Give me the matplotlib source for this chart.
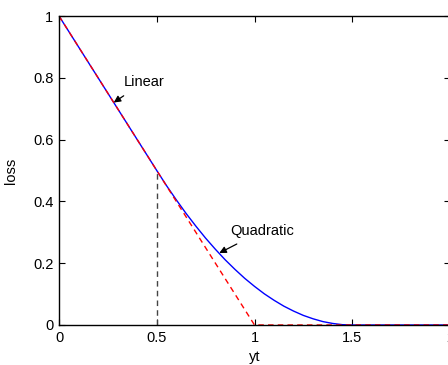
import matplotlib
matplotlib.use('Agg')
import matplotlib.pyplot as plt

# smooth hinge (blue)
yt_smooth = [0, 0.5, 0.55, 0.6, 0.65, 0.7, 0.75, 0.8, 0.85, 0.9, 0.95, 1.0,
             1.05, 1.1, 1.15, 1.2, 1.25, 1.3, 1.35, 1.4, 1.45, 1.5, 2.0]
loss_smooth = [1.0, 0.5, 0.451, 0.405, 0.361, 0.32, 0.281, 0.245, 0.211, 0.18,
               0.151, 0.125, 0.101, 0.08, 0.061, 0.045, 0.031, 0.02, 0.011,
               0.005, 0.001, 0.0, 0.0]
# plain hinge (red dashed)
yt_hinge = [0, 1, 2]
loss_hinge = [1.0, 0.0, 0.0]
# split marker (black dashed)
yt_split = [0.5, 0.5]
loss_split = [0.0, 0.5]

plt.rcParams['font.family'] = ['Liberation Sans', 'DejaVu Sans']
plt.rcParams['font.size'] = 10.5

fig = plt.figure(figsize=(4.48, 3.65), dpi=100, facecolor='w')
ax = fig.add_axes([59 / 448, 40 / 365, 391 / 448, 309 / 365])

ax.plot(yt_split, loss_split, color='#444444', lw=1.0, dashes=(4, 3))
ax.plot(yt_smooth, loss_smooth, color='blue', lw=1.0)
ax.plot(yt_hinge, loss_hinge, color='red', lw=1.0, dashes=(4, 3))

arrow = dict(arrowstyle='-|>', color='k', lw=0.9,
             mutation_scale=10, shrinkA=5, shrinkB=0)
ax.annotate('Linear', xy=(0.28, 0.72), xytext=(0.33, 0.786),
            va='center', ha='left', arrowprops=arrow)
ax.annotate('Quadratic', xy=(0.82, 0.233), xytext=(0.875, 0.304),
            va='center', ha='left', arrowprops=arrow)

ax.set_xlim(0, 2)
ax.set_ylim(0, 1)
ax.set_xticks([0, 0.5, 1, 1.5, 2])
ax.set_xticklabels(['0', '0.5', '1', '1.5', '2'])
ax.set_yticks([0, 0.2, 0.4, 0.6, 0.8, 1])
ax.set_yticklabels(['0', '0.2', '0.4', '0.6', '0.8', '1'])
ax.tick_params(direction='in', length=4, width=0.8, top=True, right=True,
               pad=4)
for s in ax.spines.values():
    s.set_linewidth(1.0)
ax.set_xlabel('yt', labelpad=4)
ax.set_ylabel('loss', labelpad=11)

fig.savefig('out.png', dpi=100)
